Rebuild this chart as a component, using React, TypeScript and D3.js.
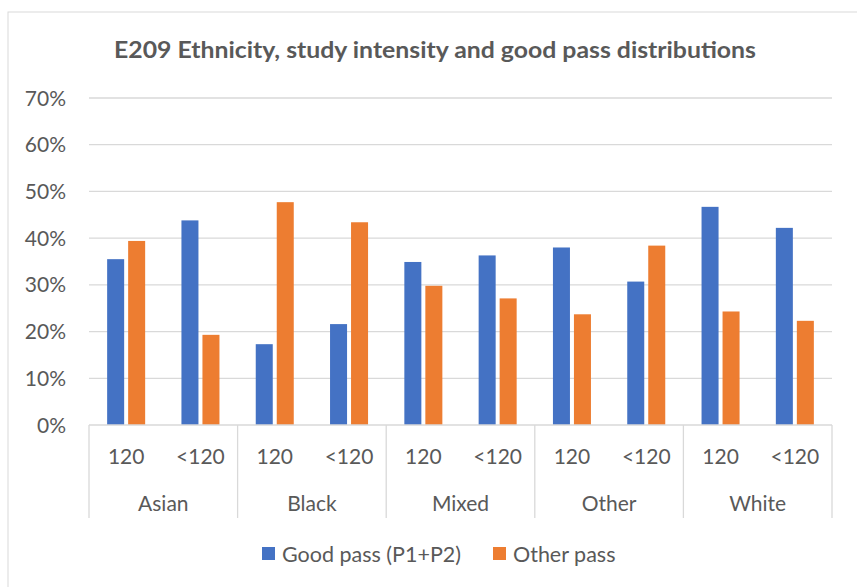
import React from "react";
import * as d3 from "d3";

const groups = ["Asian", "Black", "Mixed", "Other", "White"];
const intensities = ["120", "<120"];
const seriesNames = ["Good pass (P1+P2)", "Other pass"];
const goodPass = [0.355, 0.438, 0.173, 0.216, 0.349, 0.363, 0.380, 0.307, 0.467, 0.422];
const otherPass = [0.394, 0.193, 0.477, 0.434, 0.298, 0.271, 0.237, 0.384, 0.243, 0.223];
const yTicks = [0, 0.1, 0.2, 0.3, 0.4, 0.5, 0.6, 0.7];
const title = "E209 Ethnicity, study intensity and good pass distributions";

const colors = ["#4472C4", "#ED7D31"];
const FONT = "Lato, 'Open Sans', sans-serif";
const TEXT = "#595959";
const GRID = "#d9d9d9";

export default function App() {
  const W = 857, H = 587;
  const left = 89, right = 832, top = 98, bottom = 425;
  const keys = groups.flatMap((g) => intensities.map((i) => g + "|" + i));
  const x = d3.scaleBand<string>().domain(keys).range([left, right]).padding(0);
  const xg = d3.scaleBand<string>().domain(groups).range([left, right]).padding(0);
  const x1 = d3
    .scaleBand<string>()
    .domain(seriesNames)
    .range([0, x.bandwidth()])
    .paddingInner(0.19)
    .paddingOuter(0.864);
  const y = d3.scaleLinear().domain([0, 0.7]).range([bottom, top]);
  const fmt = d3.format(".0%");
  const series = [goodPass, otherPass];

  return (
    <svg
      width={W}
      height={H}
      style={{ position: "absolute", left: 0, top: 0, background: "#fff" }}
      fontFamily={FONT}
    >
      <rect x={8} y={12} width={W} height={H} fill="#fff" stroke="#d9d9d9" strokeWidth={1} />
      <text
        x={435}
        y={58}
        textAnchor="middle"
        fontSize={23}
        fontWeight="bold"
        fill={TEXT}
        textLength={642}
        lengthAdjust="spacingAndGlyphs"
      >
        {title}
      </text>
      {yTicks.map((t) => (
        <g key={t}>
          {t > 0 && (
            <line x1={left} x2={right} y1={y(t)} y2={y(t)} stroke={GRID} strokeWidth={1.3} />
          )}
          <text x={66} y={y(t)} dy="0.36em" textAnchor="end" fontSize={21} fill={TEXT}>
            {fmt(t)}
          </text>
        </g>
      ))}
      {keys.map((k, i) =>
        series.map((s, si) => (
          <rect
            key={k + si}
            x={(x(k) as number) + (x1(seriesNames[si]) as number)}
            y={y(s[i])}
            width={x1.bandwidth()}
            height={bottom - y(s[i])}
            fill={colors[si]}
          />
        ))
      )}
      <line x1={left} x2={right} y1={bottom} y2={bottom} stroke={GRID} strokeWidth={1.3} />
      {groups.concat(["__end"]).map((g, i) => {
        const xx = i < groups.length ? (xg(g) as number) : right;
        return <line key={g} x1={xx} x2={xx} y1={bottom} y2={518} stroke={GRID} strokeWidth={1.3} />;
      })}
      {keys.map((k) => (
        <text
          key={k}
          x={(x(k) as number) + x.bandwidth() / 2}
          y={456}
          dy="0.36em"
          textAnchor="middle"
          fontSize={21}
          fill={TEXT}
        >
          {k.split("|")[1]}
        </text>
      ))}
      {groups.map((g) => (
        <text
          key={g}
          x={(xg(g) as number) + xg.bandwidth() / 2}
          y={503}
          dy="0.36em"
          textAnchor="middle"
          fontSize={21}
          fill={TEXT}
        >
          {g}
        </text>
      ))}
      {seriesNames.map((n, i) => {
        const lx = i === 0 ? 262 : 493;
        return (
          <g key={n}>
            <rect x={lx} y={547} width={13} height={13} fill={colors[i]} />
            <text x={lx + 20} y={554} dy="0.36em" fontSize={21.5} fill={TEXT}>
              {n}
            </text>
          </g>
        );
      })}
    </svg>
  );
}
